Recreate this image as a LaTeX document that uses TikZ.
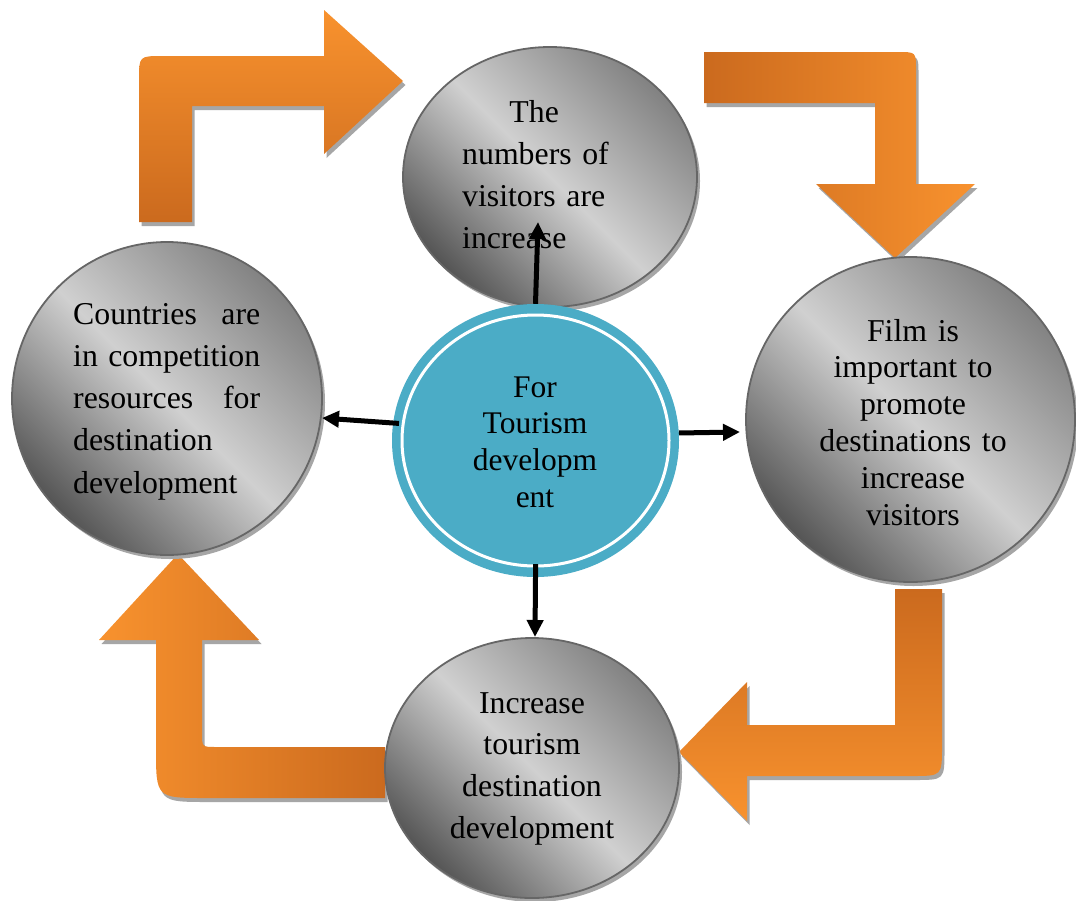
\documentclass[tikz,border=0pt]{standalone}
\usepackage{fontspec}
\setmainfont{Liberation Serif}
\usetikzlibrary{shapes.geometric,shadows,arrows.meta}
\definecolor{oL}{HTML}{F8922E}
\definecolor{oD}{HTML}{CB6A1E}
\definecolor{shg}{HTML}{A6A6A6}
\definecolor{gD}{HTML}{555555}
\definecolor{gM}{HTML}{D0D0D0}
\definecolor{gT}{HTML}{828282}
\definecolor{gE}{HTML}{666666}
\definecolor{tblue}{HTML}{4BACC6}
\def\arrA{(139,222) -- (139,80) .. controls (139,56) .. (163,56) -- (324,56) -- (324,10) -- (403,81) -- (324,154) -- (324,106) -- (192,106) -- (192,222) -- cycle}
\def\arrB{(704,52) -- (898,52) .. controls (916,52) .. (916,70) -- (916,184) -- (975,184) -- (895,258) -- (816,184) -- (875,184) -- (875,103) -- (704,103) -- cycle}
\def\arrC{(895,589) -- (942,589) -- (942,746) .. controls (942,776) .. (912,776) -- (747,776) -- (747,821) -- (679,752) -- (747,682) -- (747,725) -- (895,725) -- cycle}
\def\arrD{(385,747) -- (385,798) -- (206,798) .. controls (156,798) .. (156,748) -- (156,640) -- (99,640) -- (178,554) -- (259,640) -- (202,640) -- (202,733) .. controls (202,747) .. (216,747) -- cycle}
\begin{document}
\begin{tikzpicture}[x=1pt,y=-1pt,
  gcirc/.style={ellipse, draw=gE, line width=1.8pt, inner sep=0pt,
    top color=gT, bottom color=gD, middle color=gM, shading angle=-45,
    drop shadow={shadow xshift=3pt,shadow yshift=-4pt,fill=shg,opacity=1}},
  txt/.style={inner sep=0pt, font=\fontsize{31.8}{42.3}\selectfont},
  blk/.style={line width=5pt, -{Triangle[length=17pt,width=16pt]}},
  shadowfill/.style={fill=shg, shift={(2.5,4)}}]
\fill[white] (0,0) rectangle (1076,900);
\useasboundingbox (0,0) rectangle (1076,900);
% orange bent arrows
\fill[shadowfill] \arrA;
\shade[top color=oL, bottom color=oD] \arrA;
\fill[shadowfill] \arrB;
\shade[left color=oD, right color=oL] \arrB;
\fill[shadowfill] \arrC;
\shade[top color=oD, bottom color=oL] \arrC;
\fill[shadowfill] \arrD;
\shade[left color=oL, right color=oD] \arrD;
% grey circles
\node[gcirc, minimum width=294pt, minimum height=260pt] (T) at (550,177) {};
\node[gcirc, minimum width=310pt, minimum height=313pt] (L) at (167,398.5) {};
\node[gcirc, minimum width=329pt, minimum height=325pt] (R) at (910.5,419.5) {};
\node[gcirc, minimum width=294pt, minimum height=260pt] (B) at (532,768) {};
% centre circle
\node[ellipse, fill=tblue, inner sep=0pt, minimum width=287pt, minimum height=273pt] (c) at (535.5,440.5) {};
\draw[white, line width=3pt] (c.center) ellipse [x radius=133.5, y radius=125.5];
% texts
\node[txt, text width=150pt, align=left, anchor=base west] (Tt) at (462,122)
  {\makebox[144pt]{The}\\numbers of\\visitors are\\increase};
\node[txt, text width=200pt, align=left, anchor=base west] (Lt) at (73,324)
  {\makebox[187pt]{Countries\hfill are}\\\makebox[187pt]{in\hfill competition}\\\makebox[187pt]{resources\hfill for}\\destination\\development};
\node[txt, font=\fontsize{31.8}{36.8}\selectfont, text width=260pt, align=center, anchor=base] (Rt) at (913,341)
  {Film is\\important to\\promote\\destinations to\\increase\\visitors};
\node[txt, font=\fontsize{31.8}{41.7}\selectfont, text width=240pt, align=center, anchor=base] (Bt) at (532,713)
  {Increase\\tourism\\destination\\development};
\node[txt, font=\fontsize{31.5}{36.7}\selectfont, text width=200pt, align=center, anchor=base] (Ct) at (535,397)
  {For\\Tourism\\developm\\ent};
% black arrows
\coordinate (tU) at (538,222);
\coordinate (tL) at (322,418);
\coordinate (tR) at (740,432);
\coordinate (tD) at (535,637);
\draw[blk] (c.north) -- (tU);
\draw[blk, shorten <=-6pt] (c.173) -- (tL);
\draw[blk] (c.3) -- (tR);
\draw[blk, shorten <=-13pt] (c.south) -- (tD);
\end{tikzpicture}
\end{document}
